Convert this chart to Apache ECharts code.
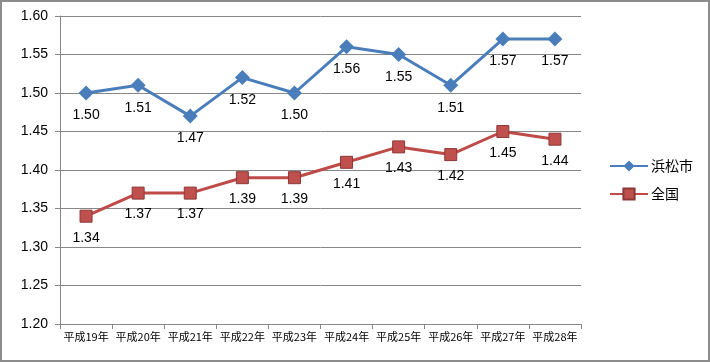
<!DOCTYPE html>
<html><head><meta charset="utf-8">
<script src="https://cdn.jsdelivr.net/npm/echarts@6/dist/echarts.min.js"></script>
<style>
html,body{margin:0;padding:0;background:#fff;}
#c{width:710px;height:362px;box-sizing:border-box;border:2px solid #8c8c8c;}
</style></head><body>
<div id="c"></div>
<script>
const categories = ['平成19年','平成20年','平成21年','平成22年','平成23年','平成24年','平成25年','平成26年','平成27年','平成28年'];
const hamamatsu = [1.50,1.51,1.47,1.52,1.50,1.56,1.55,1.51,1.57,1.57];
const zenkoku = [1.34,1.37,1.37,1.39,1.39,1.41,1.43,1.42,1.45,1.44];
const yTicks = {min:1.20, max:1.60, interval:0.05};
const chart = echarts.init(document.getElementById('c'));
const font = '"Liberation Sans","Noto Sans CJK JP",sans-serif';
chart.setOption({
  animation:false,
  grid:{left:58,right:127,top:14,bottom:36},
  legend:{
    orient:'vertical', left:602, top:152, itemGap:14, itemWidth:38, itemHeight:14,
    textStyle:{fontFamily:'"Noto Sans CJK JP",sans-serif',fontSize:14,color:'#000',padding:[0,0,0,-2]},
    data:['浜松市','全国']
  },
  xAxis:{
    type:'category', data:categories, boundaryGap:true,
    axisLine:{lineStyle:{color:'#878787',width:1}},
    axisTick:{show:true,length:5,lineStyle:{color:'#878787'}},
    axisLabel:{fontFamily:'"Noto Sans CJK JP",sans-serif',fontSize:11,color:'#000',margin:7,interval:0}
  },
  yAxis:{
    type:'value', min:yTicks.min, max:yTicks.max, interval:yTicks.interval,
    axisLine:{show:true,lineStyle:{color:'#878787'}},
    axisTick:{show:true,length:5,lineStyle:{color:'#878787'}},
    splitLine:{lineStyle:{color:'#878787',width:1}},
    axisLabel:{fontFamily:font,fontSize:14,color:'#000',margin:12,formatter:v=>v.toFixed(2)}
  },
  series:[
    {name:'浜松市',type:'line',data:hamamatsu,symbol:'diamond',symbolSize:15,
     lineStyle:{color:'#4a7ebb',width:3},itemStyle:{color:'#4a7ebb'},
     label:{show:true,position:'bottom',distance:8,fontFamily:font,fontSize:14,color:'#000',formatter:p=>p.value.toFixed(2)}},
    {name:'全国',type:'line',data:zenkoku,symbol:'rect',symbolSize:12,
     lineStyle:{color:'#be4b48',width:3},itemStyle:{color:'#c0504d',borderColor:'#8c3836',borderWidth:1},
     label:{show:true,position:'bottom',distance:8,fontFamily:font,fontSize:14,color:'#000',formatter:p=>p.value.toFixed(2)}}
  ]
});
</script></body></html>
